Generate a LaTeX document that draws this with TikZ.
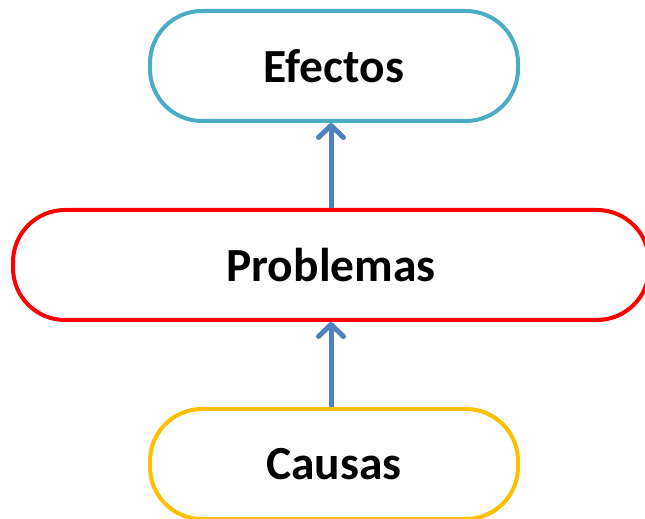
\documentclass[tikz,border=0pt]{standalone}
\usepackage{fontspec}
\setmainfont{Carlito}
\usetikzlibrary{positioning, arrows.meta}

\definecolor{efectoscol}{HTML}{4BACC6}
\definecolor{causascol}{HTML}{FFC000}
\definecolor{flechacol}{HTML}{4F81BD}

\begin{document}
\begin{tikzpicture}[
            x=1pt, y=1pt,
            block/.style={rectangle, draw, line width=4pt, rounded corners=52pt,
                          minimum height=110pt, minimum width=368pt,
                          font=\fontsize{47.5}{56}\selectfont\bfseries},
            flecha/.style={draw=flechacol, line width=5pt,
                           -{Straight Barb[length=12pt, width=25pt, round]}},
            node distance=85pt,
            auto
        ]
        \useasboundingbox (0,0) rectangle (645,519);

        \node[block, draw=red, minimum width=636pt] (problemas) at (331,254) {Problemas};
        \node[block, draw=efectoscol, above=of problemas, xshift=3pt] (efectos) {Efectos};
        \node[block, draw=causascol, below=of problemas, xshift=3pt] (causas) {Causas};

        \draw[flecha] (problemas) -- (problemas |- efectos.south);
        \draw[flecha] (problemas |- causas.north) -- (problemas);

    \end{tikzpicture}
\end{document}
